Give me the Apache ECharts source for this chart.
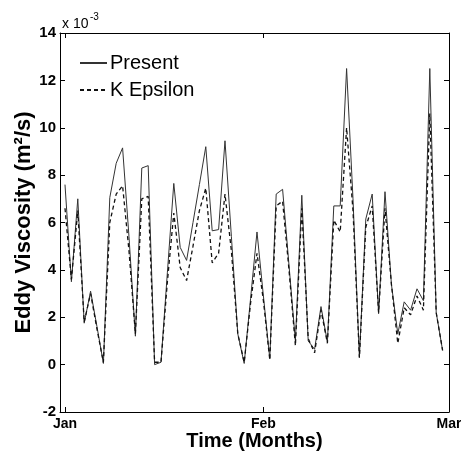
<!DOCTYPE html>
<html><head><meta charset="utf-8">
<script src="https://cdn.jsdelivr.net/npm/echarts@6/dist/echarts.min.js"></script>
<style>html,body{margin:0;padding:0;background:#fff}#c{width:461px;height:451px}</style>
</head><body><div id="c"></div>
<script>
const days = [0,1,2,3,4,5,6,7,8,9,10,11,12,13,14,15,16,17,18,19,20,21,22,23,24,25,26,27,28,29,30,31,32,33,34,35,36,37,38,39,40,41,42,43,44,45,46,47,48,49,50,51,52,53,54,55,56,57,58,59];
const present = [7.6,3.5,7.0,1.75,3.1,1.6,0.05,7.05,8.5,9.15,5.4,1.2,8.3,8.4,0.0,0.1,3.9,7.65,4.95,4.4,6.0,7.6,9.2,5.65,5.7,9.45,5.4,1.3,0.05,2.8,5.6,2.9,0.25,7.2,7.4,4.2,1.0,7.15,1.0,0.65,2.45,0.95,6.7,6.7,12.5,7.0,0.3,6.15,7.2,2.15,7.3,3.4,1.3,2.65,2.3,3.2,2.7,12.5,2.2,0.6];
const kEpsilon = [6.6,3.6,6.5,1.8,3.0,1.5,0.1,6.0,7.2,7.55,4.8,1.3,7.0,7.1,0.1,0.1,3.5,6.4,4.1,3.55,5.0,6.5,7.45,4.3,4.7,7.2,4.8,1.3,0.1,2.6,4.7,2.7,0.2,6.7,6.9,4.0,0.8,6.6,1.1,0.5,2.3,0.9,6.1,5.6,10.0,6.5,0.3,5.8,6.7,2.2,6.6,3.4,0.9,2.4,2.1,2.9,2.3,10.6,2.2,0.6];
const xTickValues = [0, 31, 60];
const xTickLabels = ['Jan', 'Feb', 'Mar'];
const yMin = -2, yMax = 14, yStep = 2;

const chart = echarts.init(document.getElementById('c'));
const F = 'Liberation Sans, Arial, Helvetica, sans-serif';
const axisBase = {
  axisLine: { show: true, onZero: false, lineStyle: { color: '#000', width: 1 } },
  splitLine: { show: false }
};
chart.setOption({
  animation: false,
  backgroundColor: '#fff',
  textStyle: { fontFamily: F },
  grid: { left: 60, right: 12, top: 33, bottom: 39, outerBoundsMode: 'none', containLabel: false },
  legend: {
    orient: 'vertical', left: 79, top: 53, padding: 0, itemWidth: 27, itemHeight: 10, itemGap: 7,
    itemStyle: { opacity: 0 },
    textStyle: { fontSize: 20, color: '#000', fontFamily: F, padding: [0, 0, 0, -2] },
    data: ['Present', 'K Epsilon']
  },
  graphic: [
    { type: 'text', left: 62, top: 17, style: { text: 'x 10', fontSize: 14, fill: '#000', fontFamily: F } },
    { type: 'text', left: 90, top: 12, style: { text: '-3', fontSize: 10, fill: '#000', fontFamily: F } }
  ],
  xAxis: [
    Object.assign({}, axisBase, {
      type: 'value', min: -0.78, max: 60, position: 'bottom',
      axisTick: { show: true, inside: true, length: 5, customValues: xTickValues, lineStyle: { color: '#000' } },
      axisLabel: { customValues: xTickValues, formatter: v => xTickLabels[xTickValues.indexOf(v)] || '',
        fontWeight: 'bold', fontSize: 14, color: '#000', margin: 5, fontFamily: F },
      name: 'Time (Months)', nameLocation: 'middle', nameGap: 19, nameMoveOverlap: false,
      nameTextStyle: { fontSize: 20, fontWeight: 'bold', color: '#000', fontFamily: F }
    }),
    Object.assign({}, axisBase, {
      type: 'value', min: -0.78, max: 60, position: 'top',
      axisTick: { show: true, inside: true, length: 5, customValues: xTickValues, lineStyle: { color: '#000' } },
      axisLabel: { show: false }
    })
  ],
  yAxis: [
    Object.assign({}, axisBase, {
      type: 'value', min: yMin, max: yMax, interval: yStep, position: 'left',
      axisTick: { show: true, inside: true, length: 5, lineStyle: { color: '#000' } },
      axisLabel: { fontWeight: 'bold', fontSize: 15, color: '#000', margin: 4, fontFamily: F },
      name: 'Eddy Viscosity (m²/s)', nameLocation: 'middle', nameGap: 25, nameMoveOverlap: false,
      nameTextStyle: { fontSize: 22, fontWeight: 'bold', color: '#000', fontFamily: F }
    }),
    Object.assign({}, axisBase, {
      type: 'value', min: yMin, max: yMax, interval: yStep, position: 'right',
      axisTick: { show: true, inside: true, length: 5, lineStyle: { color: '#000' } },
      axisLabel: { show: false }
    })
  ],
  series: [
    { name: 'Present', type: 'line', symbol: 'none', data: days.map((d, i) => [d, present[i]]),
      lineStyle: { color: '#333', width: 1 }, itemStyle: { color: '#333' } },
    { name: 'K Epsilon', type: 'line', symbol: 'none', data: days.map((d, i) => [d, kEpsilon[i]]),
      lineStyle: { color: '#111', width: 1.3, type: [4, 3] }, itemStyle: { color: '#111' } }
  ]
});
</script></body></html>
